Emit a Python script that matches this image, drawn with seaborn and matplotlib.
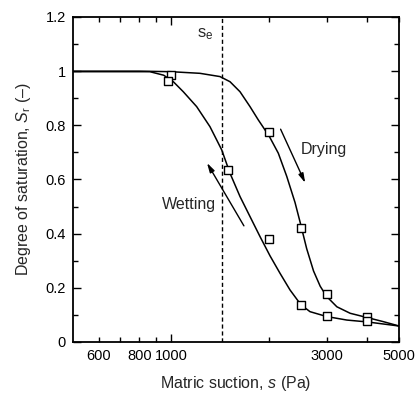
import matplotlib
matplotlib.use("Agg")
import matplotlib.pyplot as plt
import seaborn as sns
import numpy as np
import pandas as pd

# Curve points (suction in Pa, degree of saturation)
drying_s = [500, 800, 1000, 1227, 1413, 1517, 1628, 1747, 1852, 2000, 2133, 2263, 2400, 2488, 2605, 2735, 2866, 3000, 3224, 3541, 4000, 4478, 5000]
drying_sr = [1.0, 1.0, 0.998, 0.992, 0.980, 0.961, 0.924, 0.869, 0.820, 0.760, 0.697, 0.612, 0.515, 0.442, 0.345, 0.262, 0.206, 0.168, 0.130, 0.106, 0.090, 0.075, 0.059]

wetting_s = [500, 862, 950, 1017, 1091, 1199, 1317, 1381, 1431, 1517, 1628, 1747, 1875, 2012, 2158, 2317, 2500, 2667, 3000, 3459, 4000, 5000]
wetting_sr = [0.998, 0.998, 0.985, 0.961, 0.924, 0.869, 0.795, 0.746, 0.709, 0.623, 0.537, 0.463, 0.389, 0.318, 0.254, 0.192, 0.138, 0.112, 0.094, 0.081, 0.074, 0.059]

# Measured points
drying_pts_s = [1000, 2000, 2500, 3000, 4000]
drying_pts_sr = [0.986, 0.775, 0.422, 0.177, 0.093]
wetting_pts_s = [980, 1500, 2000, 2500, 3000, 4000]
wetting_pts_sr = [0.965, 0.635, 0.381, 0.135, 0.096, 0.079]

s_e = 1437

x_major = [1000]
x_major_labels = ["1000"]
x_minor = [600, 700, 800, 900, 2000, 3000, 4000, 5000]
x_minor_labels = ["600", "", "800", "", "", "3000", "", "5000"]
y_ticks = [0, 0.2, 0.4, 0.6, 0.8, 1.0, 1.2]
y_labels = ["0", "0.2", "0.4", "0.6", "0.8", "1", "1.2"]

sns.set_style("ticks")
plt.rcParams["font.family"] = ["Liberation Sans", "DejaVu Sans"]
plt.rcParams["mathtext.fontset"] = "custom"
plt.rcParams["mathtext.rm"] = "Liberation Sans"
plt.rcParams["mathtext.it"] = "Liberation Sans:italic"

fig = plt.figure(figsize=(4.17, 3.94), dpi=100)
ax = fig.add_axes([0.1743, 0.132, 0.957 - 0.1743, 0.9569 - 0.132])

dry = pd.DataFrame({"s": drying_s, "Sr": drying_sr})
wet = pd.DataFrame({"s": wetting_s, "Sr": wetting_sr})
sns.lineplot(data=dry, x="s", y="Sr", ax=ax, color="black", lw=1.1, sort=False)
sns.lineplot(data=wet, x="s", y="Sr", ax=ax, color="black", lw=1.1, sort=False)

pts = pd.DataFrame({"s": drying_pts_s + wetting_pts_s, "Sr": drying_pts_sr + wetting_pts_sr})
ax.scatter(pts["s"], pts["Sr"], marker="s", s=28, facecolors="white", edgecolors="black", linewidths=1.0, zorder=3)

ax.axvline(s_e, color="black", lw=1.0, ls=(0, (3, 2)), zorder=1)
ax.text(1275, 1.135, "s$_\\mathrm{e}$", fontsize=12, ha="center", va="center")

ax.annotate("", xy=(2600, 0.578), xytext=(2150, 0.795),
            arrowprops=dict(arrowstyle="-|>,head_length=0.55,head_width=0.15", color="black", lw=1.0))
ax.annotate("", xy=(1277, 0.67), xytext=(1690, 0.42),
            arrowprops=dict(arrowstyle="-|>,head_length=0.55,head_width=0.15", color="black", lw=1.0))
ax.text(2500, 0.709, "Drying", fontsize=11.5, ha="left", va="center")
ax.text(1134, 0.506, "Wetting", fontsize=11.5, ha="center", va="center")

ax.set_xscale("log")
ax.set_xlim(500, 5000)
ax.set_ylim(0, 1.2)
ax.set_xticks(x_major)
ax.set_xticklabels(x_major_labels)
ax.set_xticks(x_minor, minor=True)
ax.set_xticklabels(x_minor_labels, minor=True)
ax.set_yticks(y_ticks)
ax.set_yticklabels(y_labels)
ax.set_yticks(np.arange(0.1, 1.2, 0.2), minor=True)

ax.tick_params(which="both", direction="in", top=True, right=True, labelsize=10.5, colors="black", width=1.0)
ax.tick_params(which="major", length=6, pad=5)
ax.tick_params(which="minor", length=3.5, pad=5)
ax.tick_params(axis="x", which="minor", labelsize=10.5)
for sp in ax.spines.values():
    sp.set_linewidth(1.3)
    sp.set_color("black")

ax.set_xlabel("Matric suction, $s$ (Pa)", fontsize=11.5, labelpad=8)
ax.set_ylabel("Degree of saturation, $S_\\mathrm{r}$ (–)", fontsize=11.5, labelpad=9)

fig.savefig("out.png", dpi=100)
